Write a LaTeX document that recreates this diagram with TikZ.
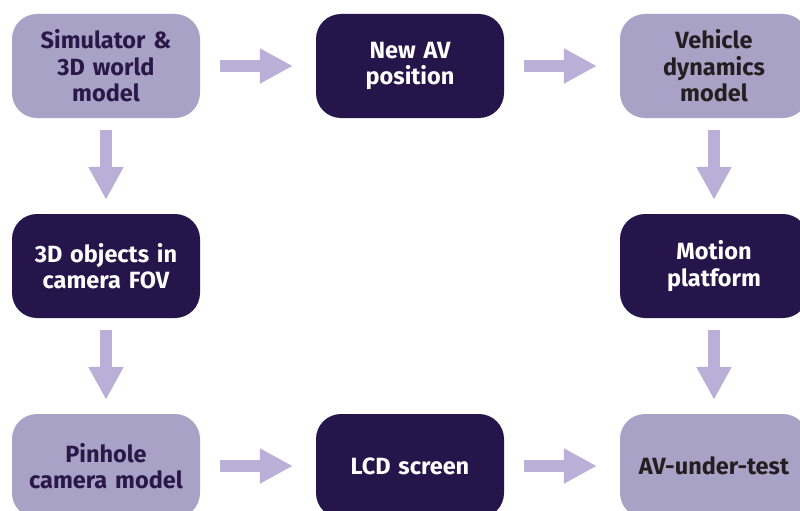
\documentclass[tikz,border=0pt]{standalone}
\usepackage{fontspec}
\setmainfont{Fira Sans}
\usetikzlibrary{arrows.meta}
\definecolor{boxlight}{HTML}{A8A2C6}
\definecolor{boxdark}{HTML}{26154A}
\definecolor{arrowc}{HTML}{B8B0D6}
\definecolor{txtpurple}{HTML}{2A1848}
\definecolor{txtblack}{HTML}{231F20}
\tikzset{
  stage/.style={rounded corners=25pt, minimum width=188pt, minimum height=104pt,
    inner sep=0pt, align=center, text width=186pt,
    font=\fontsize{23.5pt}{26.5pt}\selectfont\bfseries},
  lightbox/.style={stage, fill=boxlight, text=txtpurple},
  lightboxk/.style={stage, fill=boxlight, text=txtblack},
  darkbox/.style={stage, fill=boxdark, text=white},
  flow/.style={draw=arrowc, line width=12pt, line cap=butt,
    -{Triangle[width=33pt, length=33pt]}}
}
\begin{document}
\begin{tikzpicture}[x=1pt, y=-1pt]
\useasboundingbox (0,0) rectangle (800,511);
\node[lightbox]  (sim)    at (106,66)  {Simulator \&\\3D world\\model};
\node[darkbox]   (newav)  at (410,66)  {New AV\\position};
\node[lightboxk] (veh)    at (714,66)  {Vehicle\\dynamics\\model};
\node[darkbox]   (obj)    at (106,266) {3D objects in\\camera FOV};
\node[darkbox]   (motion) at (714,266) {Motion\\platform};
\node[lightbox]  (pin)    at (106,466) {Pinhole\\camera model};
\node[darkbox]   (lcd)    at (410,466) {LCD screen};
\node[lightboxk] (avt)    at (714,466) {AV-under-test};

\draw[flow, shorten <=20pt, shorten >=23pt] (sim) -- (newav);
\draw[flow, shorten <=20pt, shorten >=23pt] (newav) -- (veh);
\draw[flow, shorten <=20pt, shorten >=23pt] (pin) -- (lcd);
\draw[flow, shorten <=20pt, shorten >=23pt] (lcd) -- (avt);
\draw[flow, shorten <=12pt, shorten >=14pt] (sim) -- (obj);
\draw[flow, shorten <=12pt, shorten >=14pt] (obj) -- (pin);
\draw[flow, shorten <=12pt, shorten >=14pt] (veh) -- (motion);
\draw[flow, shorten <=12pt, shorten >=14pt] (motion) -- (avt);
\end{tikzpicture}
\end{document}
